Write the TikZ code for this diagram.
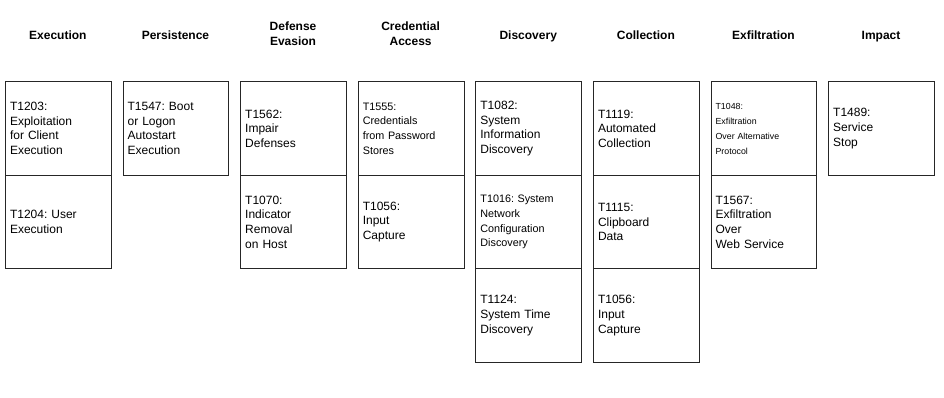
\documentclass[tikz,border=0pt]{standalone}
\usepackage{fontspec}
\setmainfont{Liberation Sans}
\frenchspacing
\begin{document}
\begin{tikzpicture}[x=1pt,y=-1pt,
 tbox/.style={draw=black!85, line width=1pt, minimum width=105.7pt, minimum height=93.5pt,
   text width=96.7pt, inner xsep=4.5pt, inner ysep=0pt, align=left, anchor=north west,
   font=\fontsize{12}{14.6}\selectfont\frenchspacing},
 small/.style={font=\fontsize{10.8}{14.7}\selectfont\frenchspacing},
 tiny/.style={font=\fontsize{8.8}{15}\selectfont\frenchspacing},
 hdr/.style={align=center, font=\bfseries\fontsize{12}{15}\selectfont,
   execute at begin node={\strut}, execute at end node={\strut}}]
\useasboundingbox (0,0) rectangle (944,398);
% headers
\node[hdr] (h1) at (57.85,36.2) {Execution};
\node[hdr] (h2) at (175.45,36.2) {Persistence};
\node[hdr] (h3) at (293.05,36.2) {Defense\\Evasion};
\node[hdr] (h4) at (410.65,36.2) {Credential\\Access};
\node[hdr] (h5) at (528.25,36.2) {Discovery};
\node[hdr] (h6) at (645.85,36.2) {Collection};
\node[hdr] (h7) at (763.45,36.2) {Exfiltration};
\node[hdr] (h8) at (881.05,36.2) {Impact};
% Execution
\node[tbox] (e1) at (5,81.3) {T1203:\\Exploitation\\for Client\\Execution};
\node[tbox] (e2) at (5,174.8) {T1204: User\\Execution};
% Persistence
\node[tbox] (p1) at (122.6,81.3) {T1547: Boot\\or Logon\\Autostart\\Execution};
% Defense Evasion
\node[tbox] (d1) at (240.2,81.3) {T1562:\\Impair\\Defenses};
\node[tbox] (d2) at (240.2,174.8) {T1070:\\Indicator\\Removal\\on Host};
% Credential Access
\node[tbox,small] (c1) at (357.8,81.3) {T1555:\\Credentials\\from Password\\Stores};
\node[tbox] (c2) at (357.8,174.8) {T1056:\\Input\\Capture};
% Discovery
\node[tbox] (di1) at (475.4,81.3) {T1082:\\System\\Information\\Discovery};
\node[tbox,small] (di2) at (475.4,174.8) {T1016: System\\Network\\Configuration\\Discovery};
\node[tbox] (di3) at (475.4,268.3) {T1124:\\System Time\\Discovery};
% Collection
\node[tbox] (co1) at (593,81.3) {T1119:\\Automated\\Collection};
\node[tbox] (co2) at (593,174.8) {T1115:\\Clipboard\\Data};
\node[tbox] (co3) at (593,268.3) {T1056:\\Input\\Capture};
% Exfiltration
\node[tbox,tiny] (x1) at (710.6,81.3) {T1048:\\Exfiltration\\Over Alternative\\Protocol};
\node[tbox] (x2) at (710.6,174.8) {T1567:\\Exfiltration\\Over\\Web Service};
% Impact
\node[tbox] (i1) at (828.2,81.3) {T1489:\\Service\\Stop};
\end{tikzpicture}
\end{document}
